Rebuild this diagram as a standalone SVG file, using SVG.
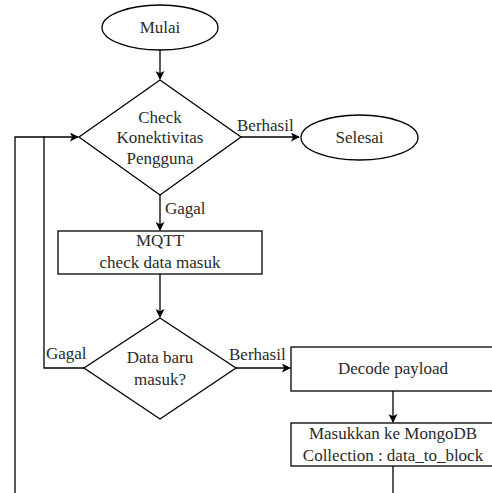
<svg xmlns="http://www.w3.org/2000/svg" width="492" height="493" viewBox="0 0 492 493">
  <style>
    .shape { fill: #ffffff; stroke: #000000; stroke-width: 1.3; }
    .edge { fill: none; stroke: #000000; stroke-width: 1.3; }
    text { font-family: "Liberation Serif", "Times New Roman", serif; font-size: 17px; fill: #2a2a2a; }
    .c { text-anchor: middle; }
  </style>
  <defs>
    <marker id="arrow" viewBox="0 0 10 10" refX="9" refY="5" markerWidth="9" markerHeight="9" markerUnits="userSpaceOnUse" orient="auto">
      <path d="M0,0 L10,5 L0,10 L2.5,5 Z" fill="#000000"/>
    </marker>
  </defs>
  <rect width="492" height="493" fill="#ffffff"/>

  <!-- connectors -->
  <g id="connectors">
    <path class="edge" d="M160,50 V79" marker-end="url(#arrow)"/>
    <path class="edge" d="M241,137 H299" marker-end="url(#arrow)"/>
    <path class="edge" d="M160,195 V230" marker-end="url(#arrow)"/>
    <path class="edge" d="M160,274 V317" marker-end="url(#arrow)"/>
    <path class="edge" d="M84,368 H44 V137 H78" marker-end="url(#arrow)"/>
    <path class="edge" d="M15,493 V137 H44"/>
    <path class="edge" d="M236,368 H290" marker-end="url(#arrow)"/>
    <path class="edge" d="M393,391 V422" marker-end="url(#arrow)"/>
    <path class="edge" d="M393,466 V493"/>
    <text x="237" y="131">Berhasil</text>
    <text x="165" y="214">Gagal</text>
    <text x="46" y="359">Gagal</text>
    <text x="229" y="360">Berhasil</text>
  </g>

  <g id="mulai">
    <ellipse class="shape" cx="160" cy="27.5" rx="58" ry="22.5"/>
    <text class="c" x="160" y="33">Mulai</text>
  </g>

  <g id="check-konektivitas">
    <polygon class="shape" points="160,80 241,137 160,195 79,137"/>
    <text class="c" x="160" y="123">Check</text>
    <text class="c" x="160" y="143">Konektivitas</text>
    <text class="c" x="160" y="164">Pengguna</text>
  </g>

  <g id="selesai">
    <ellipse class="shape" cx="359.5" cy="137.5" rx="58.5" ry="22.5"/>
    <text class="c" x="359.5" y="143">Selesai</text>
  </g>

  <g id="mqtt">
    <rect class="shape" x="58" y="231" width="204" height="43"/>
    <text class="c" x="160" y="246">MQTT</text>
    <text class="c" x="160" y="268">check data masuk</text>
  </g>

  <g id="data-baru">
    <polygon class="shape" points="160,318 236,368 160,419 84,368"/>
    <text class="c" x="160" y="363">Data baru</text>
    <text class="c" x="160" y="385">masuk?</text>
  </g>

  <g id="decode">
    <rect class="shape" x="291" y="347" width="204" height="44"/>
    <text class="c" x="393" y="374">Decode payload</text>
  </g>

  <g id="mongodb">
    <rect class="shape" x="291" y="423" width="204" height="43"/>
    <text class="c" x="393" y="439">Masukkan ke MongoDB</text>
    <text class="c" x="393" y="461">Collection : data_to_block</text>
  </g>
</svg>
